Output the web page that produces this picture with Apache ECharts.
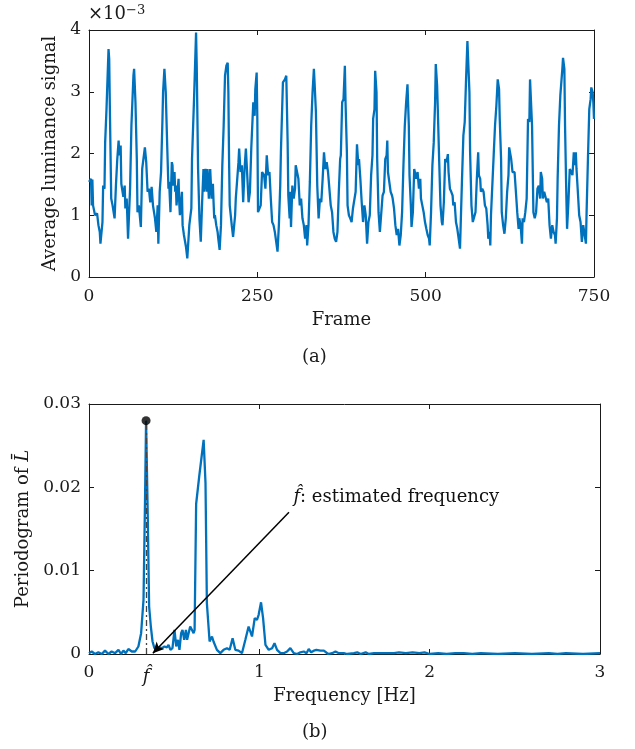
<!DOCTYPE html>
<html>
<head>
<meta charset="utf-8">
<script src="https://cdn.jsdelivr.net/npm/echarts@6/dist/echarts.min.js"></script>
<style>
  html, body { margin: 0; padding: 0; background: #fff; }
  #chart { width: 635px; height: 749px; }
</style>
</head>
<body>
<div id="chart"></div>
<script>
// (a) average luminance signal, values in units of 1e-3
var frames = [0,3,4,5,6,9,11,12,14,16,17,20,21,23,24,26,29,30,31,33,35,38,40,42,44,45,47,48,50,51,53,54,56,58,61,63,66,67,69,71,72,74,77,79,81,83,85,87,89,91,93,95,97,98,100,102,103,105,107,109,110,112,114,116,118,119,121,123,124,125,127,128,129,130,133,134,135,138,139,141,143,144,146,149,152,153,156,159,160,162,164,166,168,170,171,173,175,176,178,180,
  182,184,185,186,187,189,191,192,194,196,198,200,202,204,206,207,208,209,212,214,217,218,220,222,223,225,227,229,231,233,235,237,239,241,243,244,246,247,249,250,251,253,255,257,260,262,264,266,268,270,272,274,276,278,280,282,284,285,288,289,291,293,295,296,298,299,300,302,304,306,307,309,311,313,315,317,319,321,323,324,326,328,330,332,334,335,337,339,341,343,345,347,349,351,353,355,357,359,361,363,365,
  367,369,371,373,374,376,378,380,381,383,384,386,388,390,392,394,396,398,400,401,403,405,407,409,411,413,415,417,419,421,422,424,425,427,428,430,432,434,436,438,440,442,443,444,446,448,450,451,453,455,457,459,461,463,465,467,469,471,473,475,476,478,479,481,483,485,486,488,490,492,493,495,497,499,501,503,505,506,508,510,512,514,515,517,518,520,522,524,525,527,529,531,533,534,536,538,540,541,543,545,547,549,551,
  552,554,556,558,560,562,563,565,566,568,570,572,574,576,578,579,581,582,584,586,588,590,592,593,595,596,597,599,601,603,605,607,609,610,612,613,615,617,619,621,623,624,626,627,629,630,632,634,636,638,639,641,643,644,646,648,650,652,654,655,657,658,660,662,664,666,668,670,671,673,674,676,678,680,682,684,686,688,690,692,693,695,696,698,700,701,703,704,706,707,709,710,712,714,716,718,720,721,723,724,726,728,730,732,734,736,738,739,741,743,745,746,748,749,750];
var lumScaled = [1.54,1.59,1.16,1.58,1.16,1.0,1.0,1.03,0.84,0.73,0.54,0.89,1.48,1.43,2.18,2.72,3.69,3.53,2.72,1.27,1.16,0.95,1.48,1.91,2.21,1.97,2.13,1.51,1.48,1.30,1.48,1.11,1.27,0.62,1.43,2.45,3.26,3.37,2.83,1.91,1.05,1.16,0.81,1.75,1.75,2.10,1.86,1.38,1.43,1.21,1.46,1.16,1.16,0.95,0.73,1.16,0.54,1.38,1.70,2.51,2.99,3.37,2.99,2.18,1.43,1.54,1.05,1.86,1.81,1.48,1.70,1.38,1.48,1.16,1.59,1.21,1.0,1.38,0.84,0.68,0.70,0.49,0.30,0.84,1.11,1.91,2.88,3.96,3.42,1.75,0.95,0.57,1.21,1.75,1.38,1.75,1.38,1.75,1.27,1.75,
  1.27,1.51,1.21,0.95,1.0,0.84,0.73,0.62,0.44,0.84,1.81,2.45,3.26,3.42,3.47,2.99,1.91,1.16,0.84,0.65,1.0,1.27,1.27,1.86,2.08,1.70,1.81,1.21,1.75,2.08,1.65,1.21,1.38,2.08,2.08,2.83,2.61,3.04,3.31,2.56,1.05,1.05,1.16,1.70,1.65,1.43,1.97,1.65,1.70,1.27,0.89,0.84,0.73,0.73,0.41,0.84,1.48,2.02,3.15,3.15,3.20,3.26,2.18,1.32,0.95,1.38,0.81,1.48,1.27,1.43,1.81,1.81,1.59,1.16,1.27,0.95,0.84,0.62,0.84,0.51,0.84,1.54,2.45,2.99,3.37,3.15,2.67,1.48,0.95,1.27,1.21,1.59,2.02,1.75,1.86,1.70,1.43,1.16,1.05,0.73,0.62,
  0.57,0.73,1.38,1.91,1.97,2.83,2.88,3.42,2.83,2.02,1.16,1.0,0.95,0.89,1.11,1.11,1.38,2.15,1.81,1.91,1.59,1.21,0.89,1.16,1.0,0.54,0.89,1.0,1.65,1.97,2.56,2.72,3.34,2.99,1.91,1.05,0.73,0.73,1.32,1.38,1.91,1.97,2.21,1.70,1.70,1.38,1.32,1.27,1.11,0.84,0.68,0.78,0.51,0.68,1.05,1.81,2.45,2.83,3.12,2.45,1.65,1.16,0.81,1.05,1.75,1.75,1.59,1.70,1.43,1.59,1.27,1.16,1.05,0.89,0.78,0.68,0.62,0.51,1.05,1.81,2.18,2.83,3.45,3.10,2.72,1.91,1.16,0.89,0.84,1.21,1.91,1.86,1.99,1.70,1.43,1.38,1.32,1.16,1.21,0.89,0.78,0.62,0.46,
  0.84,1.59,2.29,2.51,3.20,3.82,3.80,2.99,2.02,1.16,0.89,0.86,1.05,1.59,2.02,1.65,1.59,1.38,1.43,1.38,1.16,1.11,0.84,0.62,0.73,0.51,1.0,1.0,1.97,2.45,2.77,3.20,3.04,2.56,1.91,1.05,0.84,0.70,0.95,1.38,1.65,2.10,2.08,1.91,1.70,1.70,1.70,1.38,1.05,0.78,0.95,0.84,0.54,0.95,0.89,1.05,1.27,2.56,2.51,3.20,3.20,2.45,1.05,0.95,1.05,1.43,1.48,1.27,1.70,1.59,1.27,1.38,1.38,1.21,1.27,0.84,0.62,0.84,0.73,0.68,0.54,0.95,1.59,2.45,2.94,2.94,3.37,3.55,3.37,2.45,1.27,0.78,1.21,1.75,1.70,1.65,2.02,1.81,2.02,1.75,1.38,1.0,0.89,0.57,0.84,0.84,0.54,1.05,1.91,2.72,2.88,3.07,2.99,2.83,2.56];

// (b) periodogram
var freqHz = [0,0.016,0.035,0.055,0.075,0.094,0.114,0.133,0.153,0.173,0.188,0.202,0.216,0.231,0.251,0.271,0.290,0.306,0.320,0.329,0.335,0.345,0.353,0.363,0.373,0.384,0.398,0.412,0.427,0.443,0.457,0.467,0.478,0.490,0.502,0.512,0.522,0.531,0.541,0.549,0.559,0.569,0.576,0.584,0.594,0.604,0.614,0.620,0.629,0.647,0.673,0.684,0.692,0.708,0.722,0.731,0.751,0.771,0.790,0.810,0.826,0.843,0.859,0.878,0.898,0.918,0.937,0.957,0.973,0.986,0.996,1.010,1.022,1.036,1.055,1.075,1.089,1.104,1.124,1.143,1.163,1.182,1.202,1.222,1.241,1.261,1.277,1.290,1.304,1.320,1.335,1.359,1.379,1.390,1.404,1.427,1.447,1.467,1.496,1.516,1.555,1.575,1.594,1.624,1.643,1.673,1.712,1.751,1.790,1.820,1.86,1.90,1.94,1.97,2.0,2.05,2.1,2.15,2.2,2.25,2.3,2.4,2.5,2.6,2.7,2.75,2.8,2.9,3.0];
var periodogram = [0.0001,0.0003,0,0.0002,0,0.0004,0,0.0003,0.0001,0.0005,0,0.0004,0.0001,0.0006,0.0003,0.0003,0.0009,0.0025,0.0065,0.0185,0.028,0.0165,0.0057,0.0033,0.0015,0.0007,0.0007,0.0008,0.0007,0.0009,0.0008,0.0011,0.0005,0.0007,0.0029,0.0009,0.0017,0.0005,0.0025,0.0029,0.0017,0.0029,0.0017,0.0017,0.0033,0.0029,0.0025,0.0029,0.0180,0.0213,0.0257,0.0205,0.0061,0.0015,0.0021,0.0015,0.0005,0.0001,0.0005,0.0007,0.0005,0.0019,0.0005,0.0004,0.0001,0.0017,0.0033,0.0021,0.0043,0.0041,0.0047,0.0062,0.0043,0.0011,0.0005,0.0007,0.0013,0.0005,0.0001,0.0001,0.0003,0.0007,0.0001,0,0.0002,0.0003,0.0001,0.0006,0.0002,0.0004,0.0005,0.0004,0.0004,0.0006,0,0.0001,0.0003,0.0001,0.0001,0,0.0001,0.0002,0,0.0002,0,0.0001,0.0001,0.0001,0.0001,0.0002,0.0001,0.0002,0.0001,0.0002,0,0.0001,0,0.0001,0.0001,0,0.0001,0,0.0001,0,0.0001,0,0.0001,0,0.0001];

var freqTickLabels = { 0: '0', 1: '1', 2: '2', 3: '3' };
var fHat = 0.335;
var peakVal = 0.028;
var arrowFrom = [1.174, 0.0170];
var arrowTo = [0.375, 0.0001];
var notePos = [1.2, 0.0188];

var FONT = 'DejaVu Serif';
var INK = '#1a1a1a';
var BLUE = '#0072BD';

var lumData = frames.map(function (f, i) { return [f, lumScaled[i]]; });
var pgData = freqHz.map(function (f, i) { return [f, periodogram[i]]; });

function boxAxis(gridIndex, pos, extra) {
  var a = {
    gridIndex: gridIndex,
    position: pos,
    type: 'value',
    axisLine: { show: true, onZero: false, lineStyle: { color: INK, width: 1 } },
    axisTick: { show: true, inside: true, length: 5, lineStyle: { color: INK } },
    axisLabel: { show: false },
    splitLine: { show: false }
  };
  return Object.assign(a, extra);
}

var TICK = 17;
var NAME = 18;
var nameStyle = { color: INK, fontFamily: FONT, fontSize: NAME };

var chart = echarts.init(document.getElementById('chart'));
chart.setOption({
  animation: false,
  backgroundColor: '#fff',
  grid: [
    { left: 89, top: 30, width: 505, height: 247 },
    { left: 89, top: 404, width: 511, height: 250 }
  ],
  xAxis: [
    boxAxis(0, 'bottom', {
      min: 0, max: 750, interval: 250,
      axisLabel: { show: true, margin: 11, color: INK, fontFamily: FONT, fontSize: TICK },
      name: 'Frame', nameLocation: 'middle', nameGap: 34, nameTextStyle: nameStyle
    }),
    boxAxis(0, 'top', { min: 0, max: 750, interval: 250 }),
    boxAxis(1, 'bottom', {
      min: 0, max: 3, interval: 1,
      axisTick: { show: true, inside: true, length: 5, lineStyle: { color: INK }, customValues: [0, 1, 2, 3] },
      axisLabel: {
        show: true, margin: 10, color: INK, fontFamily: FONT, fontSize: TICK,
        customValues: [0, fHat, 1, 2, 3],
        formatter: function (v) {
          if (Math.abs(v - fHat) < 1e-6) return '{it|f\u0302}';
          return freqTickLabels[Math.round(v)];
        },
        rich: { it: { fontStyle: 'italic', fontFamily: FONT, fontSize: NAME, color: INK, padding: [4, 0, 0, 0] } }
      },
      name: 'Frequency [Hz]', nameLocation: 'middle', nameGap: 32, nameTextStyle: nameStyle
    }),
    boxAxis(1, 'top', { min: 0, max: 3, interval: 1 })
  ],
  yAxis: [
    boxAxis(0, 'left', {
      min: 0, max: 4, interval: 1,
      axisLabel: { show: true, margin: 8, color: INK, fontFamily: FONT, fontSize: TICK },
      name: 'Average luminance signal', nameLocation: 'middle', nameGap: 26, nameTextStyle: nameStyle
    }),
    boxAxis(0, 'right', { min: 0, max: 4, interval: 1 }),
    boxAxis(1, 'left', {
      min: 0, max: 0.03, interval: 0.01,
      axisLabel: {
        show: true, margin: 8, color: INK, fontFamily: FONT, fontSize: TICK,
        formatter: function (v) { return v === 0 ? '0' : v.toFixed(2); }
      },
      name: '{n|Periodogram of }{it|L\u0304}', nameLocation: 'middle', nameGap: 50,
      nameTextStyle: {
        color: INK, fontFamily: FONT, fontSize: NAME,
        rich: {
          n: { color: INK, fontFamily: FONT, fontSize: NAME },
          it: { color: INK, fontFamily: FONT, fontSize: NAME, fontStyle: 'italic' }
        }
      }
    }),
    boxAxis(1, 'right', { min: 0, max: 0.03, interval: 0.01 })
  ],
  series: [
    {
      type: 'line', xAxisIndex: 0, yAxisIndex: 0, data: lumData,
      showSymbol: false, symbol: 'none',
      lineStyle: { color: BLUE, width: 2.3 }
    },
    {
      type: 'line', xAxisIndex: 2, yAxisIndex: 2, data: pgData,
      showSymbol: false, symbol: 'none',
      lineStyle: { color: BLUE, width: 2.3 },
      markLine: {
        silent: true, animation: false,
        data: [
          [
            { coord: [fHat, 0], symbol: 'none', lineStyle: { color: '#444', width: 1.3, type: [6, 3, 2, 3] } },
            { coord: [fHat, peakVal], symbol: 'none' }
          ],
          [
            { coord: arrowFrom, symbol: 'none', lineStyle: { color: '#000', width: 1.5, type: 'solid' } },
            { coord: arrowTo, symbol: 'arrow', symbolSize: [8, 11] }
          ]
        ],
        label: { show: false }
      }
    },
    {
      type: 'scatter', xAxisIndex: 2, yAxisIndex: 2,
      data: [[fHat, peakVal]], symbolSize: 9,
      itemStyle: { color: '#000' }, z: 5
    },
    {
      type: 'scatter', xAxisIndex: 2, yAxisIndex: 2,
      data: [notePos], symbolSize: 0, silent: true,
      itemStyle: { opacity: 1, color: '#000' },
      label: {
        show: true, position: 'right', distance: 0, color: '#000', opacity: 1,
        formatter: '{it|f\u0302}{n|: estimated frequency}',
        rich: {
          it: { fontFamily: FONT, fontSize: NAME, fontStyle: 'italic', color: '#111' },
          n: { fontFamily: FONT, fontSize: NAME, color: '#111' }
        }
      }
    }
  ],
  graphic: [
    {
      type: 'text', left: 88, top: 4,
      style: {
        text: '{a|\u00d710}{b|\u22123}',
        rich: {
          a: { fontFamily: FONT, fontSize: NAME, fill: INK },
          b: { fontFamily: FONT, fontSize: 13, fill: INK, verticalAlign: 'top', padding: [0, 0, 8, 0] }
        }
      }
    },
    { type: 'text', left: 302, top: 348, style: { text: '(a)', fontFamily: FONT, fontSize: NAME, fill: INK } },
    { type: 'text', left: 302, top: 723, style: { text: '(b)', fontFamily: FONT, fontSize: NAME, fill: INK } }
  ]
});
</script>
</body>
</html>
